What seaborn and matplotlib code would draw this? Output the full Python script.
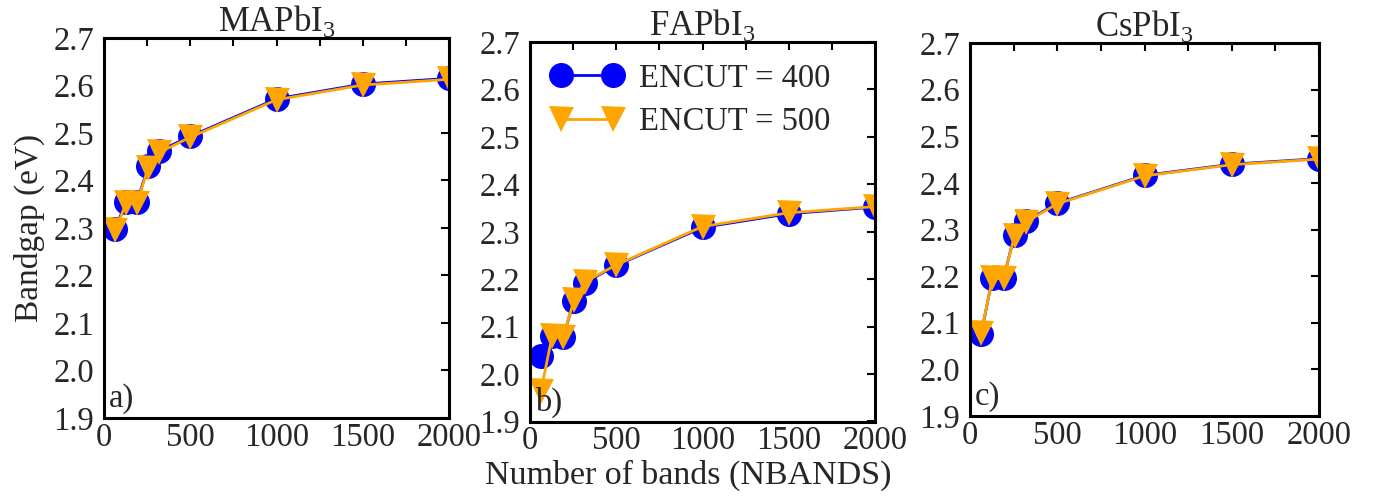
import numpy as np
import pandas as pd
import matplotlib
matplotlib.use("Agg")
import matplotlib.pyplot as plt
import seaborn as sns
from matplotlib.ticker import MultipleLocator

nbands = [64, 128, 192, 256, 320, 500, 1000, 1500, 2000]

mapbi3_400 = [2.298, 2.355, 2.355, 2.430, 2.462, 2.493, 2.572, 2.603, 2.615]
mapbi3_500 = [2.295, 2.352, 2.352, 2.427, 2.459, 2.491, 2.570, 2.601, 2.613]

fapbi3_400 = [2.038, 2.080, 2.078, 2.155, 2.193, 2.229, 2.309, 2.338, 2.352]
fapbi3_500 = [1.965, 2.080, 2.078, 2.157, 2.195, 2.230, 2.311, 2.340, 2.353]

cspbi3_400 = [2.076, 2.195, 2.195, 2.289, 2.318, 2.356, 2.416, 2.440, 2.452]
cspbi3_500 = [2.078, 2.195, 2.195, 2.287, 2.316, 2.355, 2.415, 2.439, 2.451]

titles = [r"MAPbI$_{\mathregular{3}}$", r"FAPbI$_{\mathregular{3}}$", r"CsPbI$_{\mathregular{3}}$"]
panel_tags = ["a)", "b)", "c)"]
series_labels = ["ENCUT = 400", "ENCUT = 500"]

sns.set_theme(style="white")
plt.rcParams["font.family"] = ["Liberation Serif", "DejaVu Serif"]
plt.rcParams["mathtext.fontset"] = "custom"
plt.rcParams["mathtext.rm"] = "Liberation Serif"

fig = plt.figure(figsize=(13.76, 4.97), dpi=100)
positions = [
    [104 / 1376, 79 / 497, 345 / 1376, 380 / 497],
    [530 / 1376, 75.5 / 497, 345 / 1376, 379.5 / 497],
    [970 / 1376, 81 / 497, 349 / 1376, 373 / 497],
]
data = [(mapbi3_400, mapbi3_500), (fapbi3_400, fapbi3_500), (cspbi3_400, cspbi3_500)]

for i, (pos, (s400, s500)) in enumerate(zip(positions, data)):
    ax = fig.add_axes(pos)
    df = pd.DataFrame({"nb": nbands, "e400": s400, "e500": s500})
    sns.lineplot(data=df, x="nb", y="e400", ax=ax, color="blue", marker="o",
                 markersize=18, markeredgewidth=0, linewidth=2, label=series_labels[0],
                 sort=False)
    sns.lineplot(data=df, x="nb", y="e500", ax=ax, color="orange", marker="v",
                 markersize=18, markeredgewidth=0, linewidth=2, label=series_labels[1],
                 sort=False)
    ax.set_xlim(0, 2000)
    ax.set_ylim(1.9, 2.7)
    ax.xaxis.set_major_locator(MultipleLocator(500))
    ax.xaxis.set_minor_locator(MultipleLocator(250))
    ax.yaxis.set_major_locator(MultipleLocator(0.1))
    ax.yaxis.set_major_formatter(matplotlib.ticker.FormatStrFormatter("%.1f"))
    ax.tick_params(axis="both", which="both", direction="in", top=True, right=True,
                   length=6, width=1.5, labelsize=23.5, color="black")
    ax.tick_params(axis="x", which="both", pad=3)
    ax.tick_params(axis="y", which="both", pad=7)
    for sp in ax.spines.values():
        sp.set_linewidth(2.2)
        sp.set_color("black")
    ax.set_xlabel("")
    ax.set_ylabel("")
    ax.set_title(titles[i], fontsize=25, pad=5)
    ax.text(0.015, 0.01, panel_tags[i], transform=ax.transAxes, fontsize=23.5,
            ha="left", va="bottom")
    if i == 1:
        ax.legend(loc="upper left", frameon=False, fontsize=23.5, numpoints=2,
                  handlelength=2.2, handletextpad=0.5, labelspacing=0.4,
                  borderaxespad=0.3, borderpad=0.35)
    else:
        ax.get_legend().remove()
    if i == 0:
        ax.set_ylabel("Bandgap (eV)", fontsize=24, labelpad=6)

fig.text(688 / 1376, 1 - 484 / 497, "Number of bands (NBANDS)", ha="center",
         va="baseline", fontsize=24.5)

fig.savefig("out.png", dpi=100)
